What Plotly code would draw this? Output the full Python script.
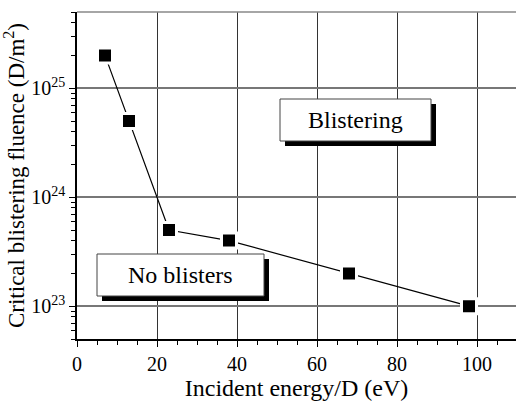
import plotly.graph_objects as go

# ---- data ----
energy_eV = [7, 13, 23, 38, 68, 98]
fluence = [2e25, 5e24, 5e23, 4e23, 2e23, 1e23]
x_ticks = [0, 20, 40, 60, 80, 100]
y_tickvals = [1e23, 1e24, 1e25]
y_ticktext = ["10<sup>23</sup>", "10<sup>24</sup>", "10<sup>25</sup>"]
region_labels = ["Blistering", "No blisters"]

W, H = 516, 402
ML, MR, MT, MB = 77, 0, 12, 63
PW, PH = W - ML - MR, H - MT - MB

def px(xp):
    return (xp - ML) / PW

def py(yp):
    return (H - MB - yp) / PH

FONT = "'Liberation Serif', 'DejaVu Serif', serif"

fig = go.Figure()
fig.add_trace(go.Scatter(
    x=energy_eV, y=fluence, mode="lines+markers",
    line=dict(color="black", width=1.2),
    marker=dict(symbol="square", size=15, color="black",
                line=dict(color="white", width=3)),
    showlegend=False, cliponaxis=False, hoverinfo="skip",
))

minor_y = [m * 10.0 ** e for e in range(22, 26) for m in range(2, 10)]

shapes = []
# top frame line
shapes.append(dict(type="line", xref="paper", yref="paper", x0=0, x1=1, y0=1, y1=1,
                   line=dict(color="#888", width=1.5), layer="above"))

boxes = [
    (280, 99, 431, 141),   # Blistering
    (97, 254, 264, 296),   # No blisters
]
annotations = []
for (x0, y0, x1, y1), label in zip(boxes, region_labels):
    off = 5
    shapes.append(dict(type="rect", xref="paper", yref="paper",
                       x0=px(x0 + off), x1=px(x1 + off), y0=py(y1 + off), y1=py(y0 + off),
                       fillcolor="black", line=dict(width=0), layer="above"))
    shapes.append(dict(type="rect", xref="paper", yref="paper",
                       x0=px(x0), x1=px(x1), y0=py(y1), y1=py(y0),
                       fillcolor="white", line=dict(color="#444", width=1), layer="above"))
    annotations.append(dict(xref="paper", yref="paper", x=px((x0 + x1) / 2), y=py((y0 + y1) / 2),
                            text=label, showarrow=False,
                            font=dict(family=FONT, size=24, color="black"),
                            xanchor="center", yanchor="middle"))

fig.update_layout(
    width=W, height=H,
    margin=dict(l=ML, r=MR, t=MT, b=MB, autoexpand=False),
    paper_bgcolor="white", plot_bgcolor="white",
    font=dict(family=FONT, color="black", size=20),
    shapes=shapes, annotations=annotations,
    xaxis=dict(
        range=[0, 109.75], tickvals=x_ticks, ticks="outside", ticklen=6,
        tickcolor="black", tickwidth=1, automargin=False,
        showline=True, linecolor="black", linewidth=1.5,
        showgrid=True, gridcolor="#333", gridwidth=1, zeroline=False,
        tickfont=dict(family=FONT, size=20),
        minor=dict(dtick=5, ticks="outside", ticklen=4, tickcolor="black", showgrid=False),
        title=dict(text="Incident energy/D (eV)", font=dict(family=FONT, size=24), standoff=5),
    ),
    yaxis=dict(
        type="log", range=[22.699, 25.699], automargin=False,
        tickvals=y_tickvals, ticktext=y_ticktext,
        ticks="outside", ticklen=6, tickcolor="black",
        showline=True, linecolor="black", linewidth=1.5,
        showgrid=True, gridcolor="#777", gridwidth=1.5, zeroline=False,
        tickfont=dict(family=FONT, size=20),
        minor=dict(tickvals=minor_y, ticks="outside", ticklen=4, tickcolor="black", showgrid=False),
        title=dict(text="Critical blistering fluence (D/m<sup>2</sup>)",
                   font=dict(family=FONT, size=23), standoff=2),
    ),
)

fig.write_html("out.html", config={"displayModeBar": False},
               post_script="document.body.style.margin='0';document.body.style.padding='0';")
